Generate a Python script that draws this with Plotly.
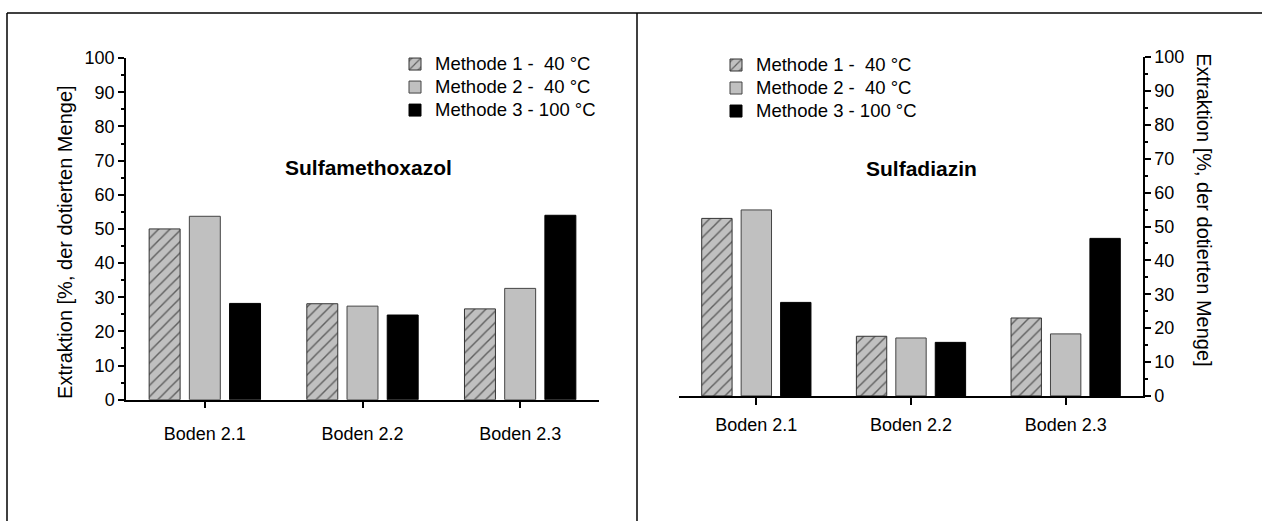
import plotly.graph_objects as go

W, H = 1262, 531

# ---- data ----
categories = ["Boden 2.1", "Boden 2.2", "Boden 2.3"]
series_names = ["Methode 1 -\u00a0 40 °C", "Methode 2 -\u00a0 40 °C", "Methode 3 - 100 °C"]

sulfamethoxazol_m1 = [50.0, 28.1, 26.6]
sulfamethoxazol_m2 = [53.7, 27.4, 32.6]
sulfamethoxazol_m3 = [28.2, 24.8, 54.0]

sulfadiazin_m1 = [52.4, 17.6, 23.0]
sulfadiazin_m2 = [54.9, 17.1, 18.3]
sulfadiazin_m3 = [27.6, 15.8, 46.5]

panel_titles = ["Sulfamethoxazol", "Sulfadiazin"]
y_title = "Extraktion [%, der dotierten Menge]"

FONT = "Liberation Sans, Arial, sans-serif"

def px(x):
    return x / W

def py(y):
    return 1 - y / H

def legend_label(s):
    # larger glyphs while keeping the compact row spacing of the original legend
    return "<span style='font-size:18.5px'>%s</span>" % s

styles = [
    dict(color="#c0c0c0", line=dict(color="#333333", width=1),
         pattern=dict(shape="/", fgcolor="#000000", bgcolor="#c0c0c0", size=8, solidity=0.18)),
    dict(color="#c0c0c0", line=dict(color="#444444", width=1)),
    dict(color="#000000", line=dict(color="#000000", width=1)),
]

fig = go.Figure()

left_vals = [sulfamethoxazol_m1, sulfamethoxazol_m2, sulfamethoxazol_m3]
right_vals = [sulfadiazin_m1, sulfadiazin_m2, sulfadiazin_m3]

for name, vals, st in zip(series_names, left_vals, styles):
    fig.add_trace(go.Bar(x=categories, y=vals, name=legend_label(name), marker=st,
                         xaxis="x", yaxis="y", legend="legend"))
for name, vals, st in zip(series_names, right_vals, styles):
    fig.add_trace(go.Bar(x=categories, y=vals, name=legend_label(name), marker=st,
                         xaxis="x2", yaxis="y2", legend="legend2"))

xcommon = dict(type="category", range=[-0.5, 2.5], showline=True, linecolor="black",
               linewidth=1.5, ticks="outside", ticklen=7, tickwidth=1.5, tickcolor="black",
               showgrid=False, zeroline=False, fixedrange=True,
               tickfont=dict(family=FONT, size=18, color="black"))
ycommon = dict(range=[0, 100], dtick=10, showline=True, linecolor="black", linewidth=1.5,
               ticks="outside", ticklen=6, tickwidth=1.5, tickcolor="black",
               minor=dict(dtick=5, ticks="outside", ticklen=3, tickwidth=1.5, tickcolor="black"),
               showgrid=False, zeroline=False, fixedrange=True,
               tickfont=dict(family=FONT, size=18, color="black"))

legend_common = dict(xanchor="left", yanchor="top", bgcolor="rgba(0,0,0,0)",
                     font=dict(family=FONT, size=15.4, color="black"),
                     itemwidth=30, tracegroupgap=0)

fig.update_layout(
    width=W, height=H,
    margin=dict(l=0, r=0, t=0, b=0),
    paper_bgcolor="white", plot_bgcolor="white",
    barmode="group", bargap=0.235, bargroupgap=0.23,
    font=dict(family=FONT, color="black"),
    xaxis=dict(xcommon, domain=[px(126), px(599)], anchor="y", ticklabelstandoff=10),
    yaxis=dict(ycommon, domain=[py(405), py(50)], anchor="x", side="left"),
    xaxis2=dict(xcommon, domain=[px(679), px(1143)], anchor="y2", ticklabelstandoff=5),
    yaxis2=dict(ycommon, domain=[py(401), py(49)], anchor="x2", side="right"),
    legend=dict(legend_common, x=px(395), y=py(39)),
    legend2=dict(legend_common, x=px(716), y=py(40)),
    showlegend=True,
)

# panel frame lines
frame = dict(type="line", xref="paper", yref="paper", line=dict(color="black", width=1.5))
fig.add_shape(frame, x0=px(7), y0=py(3), x1=1, y1=py(3))
fig.add_shape(frame, x0=px(7), y0=py(3), x1=px(7), y1=0)
fig.add_shape(frame, x0=px(637), y0=py(3), x1=px(637), y1=0)

# panel titles
title_font = dict(family=FONT, size=21, color="black")
fig.add_annotation(text="<b>%s</b>" % panel_titles[0], x=px(368), y=py(164), xref="paper", yref="paper",
                   xanchor="center", yanchor="middle", showarrow=False, font=title_font)
fig.add_annotation(text="<b>%s</b>" % panel_titles[1], x=px(921), y=py(165), xref="paper", yref="paper",
                   xanchor="center", yanchor="middle", showarrow=False, font=title_font)

# axis titles
axis_font = dict(family=FONT, size=20, color="black")
fig.add_annotation(text=y_title, x=px(65), y=py(241), xref="paper", yref="paper", textangle=-90,
                   xanchor="center", yanchor="middle", showarrow=False, font=axis_font)
fig.add_annotation(text=y_title, x=px(1204), y=py(208), xref="paper", yref="paper", textangle=90,
                   xanchor="center", yanchor="middle", showarrow=False, font=axis_font)

fig.write_html("out.html")
